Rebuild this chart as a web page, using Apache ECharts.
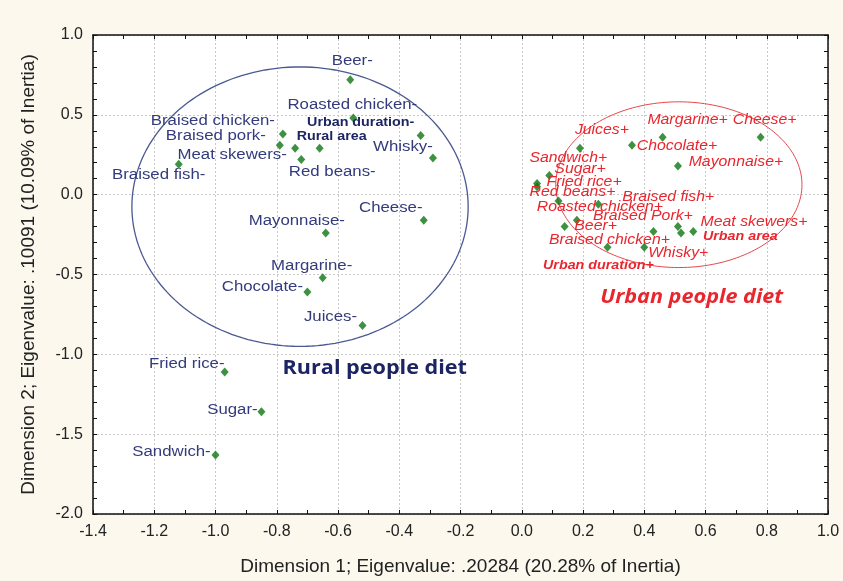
<!DOCTYPE html>
<html>
<head>
<meta charset="utf-8">
<script src="https://cdn.jsdelivr.net/npm/echarts@6/dist/echarts.min.js"></script>
<style>
  html, body { margin: 0; padding: 0; background: #fcf8ee; }
  #chart { width: 843px; height: 581px; }
</style>
</head>
<body>
<div id="chart"></div>
<script>
// ---- Correspondence analysis coordinates ----
// Rural respondents ("-" categories)
const ruralItems = [
  'Beer-', 'Roasted chicken-', 'Urban duration-', 'Rural area', 'Whisky-',
  'Braised chicken-', 'Braised pork-', 'Meat skewers-', 'Red beans-', 'Braised fish-',
  'Cheese-', 'Mayonnaise-', 'Margarine-', 'Chocolate-', 'Juices-',
  'Fried rice-', 'Sugar-', 'Sandwich-'
];
const ruralDim1 = [-0.56, -0.55, -0.33, -0.66, -0.29, -0.78, -0.79, -0.74, -0.72, -1.12,
                   -0.32, -0.64, -0.65, -0.70, -0.52, -0.97, -0.85, -1.00];
const ruralDim2 = [0.72, 0.48, 0.37, 0.29, 0.23, 0.38, 0.31, 0.29, 0.22, 0.19,
                   -0.16, -0.24, -0.52, -0.61, -0.82, -1.11, -1.36, -1.63];

// Urban respondents ("+" categories)
const urbanItems = [
  'Margarine+', 'Cheese+', 'Juices+', 'Chocolate+', 'Mayonnaise+',
  'Sandwich+', 'Sugar+', 'Fried rice+', 'Red beans+', 'Braised fish+',
  'Roasted chicken+', 'Braised Pork+', 'Meat skewers+', 'Beer+', 'Urban area',
  'Braised chicken+', 'Whisky+', 'Urban duration+'
];
const urbanDim1 = [0.46, 0.78, 0.19, 0.36, 0.51, 0.09, 0.05, 0.05, 0.12, 0.25,
                   0.18, 0.51, 0.52, 0.14, 0.56, 0.28, 0.40, 0.43];
const urbanDim2 = [0.36, 0.36, 0.29, 0.31, 0.18, 0.12, 0.07, 0.05, -0.04, -0.06,
                   -0.16, -0.20, -0.24, -0.20, -0.23, -0.33, -0.33, -0.23];

// Supplementary (bold) points
const supplementaryItems = ['Urban duration-', 'Rural area', 'Urban area', 'Urban duration+'];

// Group ellipses: centre dim1, centre dim2, half-width, half-height
const ruralEllipse = [-0.724, -0.075, 0.549, 0.875];
const urbanEllipse = [0.513, 0.0625, 0.402, 0.519];

// Group captions
const groupCaptions = ['Rural people diet', 'Urban people diet'];

// Axis ranges and titles
const xRange = [-1.4, 1.0, 0.2];
const yRange = [-2.0, 1.0, 0.5];
const xTitle = 'Dimension 1; Eigenvalue: .20284 (20.28% of Inertia)';
const yTitle = 'Dimension 2; Eigenvalue: .10091 (10.09% of Inertia)';

// ---- Layout: label nudges in pixels (label centre relative to its point) ----
const labelOffset = {
  'Beer-': [2, -19], 'Roasted chicken-': [-1, -13], 'Urban duration-': [-60, -13],
  'Rural area': [12, -12], 'Whisky-': [-30, -11], 'Braised chicken-': [-70, -13],
  'Braised pork-': [-64, -9], 'Meat skewers-': [-63, 7], 'Red beans-': [31, 13],
  'Braised fish-': [-20, 11], 'Cheese-': [-33, -12], 'Mayonnaise-': [-29, -12],
  'Margarine-': [-11, -12], 'Chocolate-': [-45, -5], 'Juices-': [-32, -8],
  'Fried rice-': [-38, -8], 'Sugar-': [-29, -2], 'Sandwich-': [-44, -3],
  'Margarine+': [25, -17], 'Cheese+': [4, -17], 'Juices+': [22, -18],
  'Chocolate+': [45, 1], 'Mayonnaise+': [58, -4], 'Sandwich+': [19, -17],
  'Sugar+': [43, -14], 'Fried rice+': [47, -5], 'Red beans+': [14, -9],
  'Braised fish+': [70, -7], 'Roasted chicken+': [23, -13], 'Braised Pork+': [-35, -10],
  'Meat skewers+': [73, -11], 'Beer+': [31, 0], 'Urban area': [47, 5],
  'Braised chicken+': [2, -7], 'Whisky+': [34, 6], 'Urban duration+': [-55, 34]
};
// caption anchor points in data units
const captionAnchor = [[-0.48, -1.09], [0.555, -0.64]];

const NAVY = '#333b7c';
const NAVY_DARK = '#1d2463';
const RED = '#e9262e';
const GREEN = '#0d7512';
const FONT = '"Liberation Sans", Arial, sans-serif';

function pairs(xs, ys) { return xs.map((x, i) => [x, ys[i], i]); }

function markerSeries(xs, ys) {
  return {
    type: 'scatter', symbol: 'diamond', symbolSize: [8, 9], z: 4, silent: true,
    itemStyle: { color: GREEN }, data: pairs(xs, ys)
  };
}

function labelSeries(names, xs, ys, color, darkColor, italic, stretch) {
  return {
    type: 'custom', silent: true, clip: false, z: 5,
    encode: { x: 0, y: 1 },
    data: pairs(xs, ys),
    renderItem(params, api) {
      const name = names[api.value(2)];
      const p = api.coord([api.value(0), api.value(1)]);
      const off = labelOffset[name] || [0, -12];
      const bold = supplementaryItems.includes(name);
      return {
        type: 'text', x: p[0] + off[0], y: p[1] + off[1],
        scaleX: bold ? 1.1 : stretch,
        style: {
          text: name,
          fill: bold ? darkColor : color,
          font: (italic ? 'italic ' : '') + (bold ? 'bold 13px ' : '14px ') + FONT,
          align: 'center', verticalAlign: 'middle'
        }
      };
    }
  };
}

function ellipseSeries(e, color, width) {
  return {
    type: 'custom', silent: true, clip: false, z: 2,
    encode: { x: 0, y: 1 },
    data: [e],
    renderItem(params, api) {
      const cx = api.value(0), cy = api.value(1), rx = api.value(2), ry = api.value(3);
      const pts = [];
      for (let k = 0; k <= 180; k++) {
        const t = k / 180 * Math.PI * 2;
        pts.push(api.coord([cx + rx * Math.cos(t), cy + ry * Math.sin(t)]));
      }
      return { type: 'polyline', shape: { points: pts },
               style: { fill: null, stroke: color, lineWidth: width } };
    }
  };
}

const captionSeries = {
  type: 'custom', silent: true, clip: false, z: 6,
  encode: { x: 0, y: 1 },
  data: captionAnchor.map((c, i) => [c[0], c[1], i]),
  renderItem(params, api) {
    const i = api.value(2);
    const p = api.coord([api.value(0), api.value(1)]);
    return {
      type: 'text', x: p[0], y: p[1], scaleX: 1.08,
      style: {
        text: groupCaptions[i],
        fill: i === 0 ? NAVY_DARK : RED,
        font: (i === 0 ? 'bold ' : 'italic bold ') + '20px "Open Sans", sans-serif',
        align: 'center', verticalAlign: 'middle'
      }
    };
  }
};

const frameLine = { show: true, onZero: false, lineStyle: { color: '#111', width: 1.5 } };
const tickStyle = { show: true, inside: true, length: 4, lineStyle: { color: '#111', width: 1 } };
const fmt = v => (Math.round(v * 10) / 10).toFixed(1);

function axisPair(range, minorSplit, isX) {
  const main = {
    type: 'value', min: range[0], max: range[1], interval: range[2],
    position: isX ? 'bottom' : 'left',
    axisLine: frameLine, axisTick: tickStyle,
    minorTick: { show: true, splitNumber: minorSplit, length: 4, lineStyle: { color: '#111', width: 1 } },
    axisLabel: { formatter: fmt, color: '#222', fontSize: 16, fontFamily: FONT,
                 margin: 10, showMinLabel: true, showMaxLabel: true },
    splitLine: { show: true, lineStyle: { color: '#c8c8c8', width: 1, type: [2, 2] } },
    name: isX ? xTitle : yTitle, nameLocation: 'middle', nameGap: isX ? 43 : 55,
    nameTextStyle: { color: '#222', fontSize: 19, fontFamily: FONT }
  };
  const mirror = {
    type: 'value', min: range[0], max: range[1], interval: range[2],
    position: isX ? 'top' : 'right',
    axisLine: frameLine, axisTick: tickStyle,
    minorTick: { show: true, splitNumber: minorSplit, length: 4, lineStyle: { color: '#111', width: 1 } },
    axisLabel: { show: false }, splitLine: { show: false }
  };
  return [main, mirror];
}

const chart = echarts.init(document.getElementById('chart'));
chart.setOption({
  backgroundColor: '#fcf8ee',
  animation: false,
  grid: { left: 93, right: 15, top: 35, bottom: 66, show: true,
          backgroundColor: '#ffffff', borderWidth: 0 },
  xAxis: axisPair(xRange, 2, true),
  yAxis: axisPair(yRange, 5, false),
  series: [
    ellipseSeries(ruralEllipse, '#4b5993', 1.3),
    ellipseSeries(urbanEllipse, '#e7474c', 1),
    markerSeries(ruralDim1, ruralDim2),
    markerSeries(urbanDim1, urbanDim2),
    labelSeries(ruralItems, ruralDim1, ruralDim2, NAVY, NAVY_DARK, false, 1.2),
    labelSeries(urbanItems, urbanDim1, urbanDim2, RED, RED, true, 1.13),
    captionSeries
  ]
});
</script>
</body>
</html>
